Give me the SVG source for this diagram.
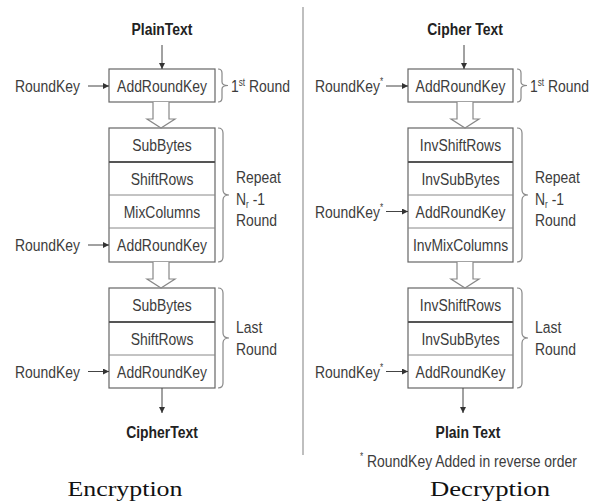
<svg xmlns="http://www.w3.org/2000/svg" width="599" height="502" viewBox="0 0 599 502">
  <defs>
    <marker id="ah" markerUnits="userSpaceOnUse" markerWidth="6" markerHeight="6" refX="6" refY="3" orient="auto">
      <path d="M0,0 L6,3 L0,6 z" fill="#333"/>
    </marker>
    <style>
      /* narrow sans look: Liberation Sans squeezed horizontally via per-text transform */
      .t { font-family: "Liberation Sans", Arial, sans-serif; font-size: 17px; fill: #3c3c3c; }
      .b { font-weight: bold; fill: #222; }
      .c { text-anchor: middle; }
      .sup { font-size: 10px; }
      .box { fill: #fff; stroke: #666; stroke-width: 1.2; }
      .div { stroke: #888; stroke-width: 1; }
      .div2 { stroke: #555; stroke-width: 2.2; }
      .ln { stroke: #444; stroke-width: 1; fill: none; }
      .br { stroke: #888; stroke-width: 1.2; fill: none; }
      .hollow { fill: #fff; stroke: #888; stroke-width: 1.2; }
      .cap { font-family: "Liberation Serif", "Times New Roman", serif; font-size: 22px; fill: #111; text-anchor: middle; }
    </style>
  </defs>

  <rect width="599" height="502" fill="#fff"/>

  <!-- separator between the two halves -->
  <line x1="303" y1="7" x2="303" y2="455" stroke="#aaa" stroke-width="1.5"/>

  <!-- ===== Encryption ===== -->
  <g id="enc-plaintext"><text class="t b c" transform="translate(162 35) scale(.82 1)">PlainText</text></g>

  <g id="enc-first">
    <rect class="box" x="109" y="69" width="106" height="33"/>
    <text class="t c" transform="translate(162 92) scale(.82 1)">AddRoundKey</text>
  </g>
  <g id="enc-key1"><text class="t" transform="translate(15 92) scale(.82 1)">RoundKey</text></g>
  <g id="enc-first-label">
    <path class="br" d="M218,69 Q222,69 222,73 L222,82 Q222,85.5 228,85.5 Q222,85.5 222,89 L222,98 Q222,102 218,102"/>
    <text class="t" transform="translate(231 92) scale(.82 1)">1<tspan class="sup" dy="-6">st</tspan><tspan dy="6"> Round</tspan></text>
  </g>

  <g id="enc-repeat">
    <rect class="box" x="109" y="128" width="106" height="134"/>
    <line class="div2" x1="109" y1="162" x2="215" y2="162"/>
    <line class="div" x1="109" y1="195" x2="215" y2="195"/>
    <line class="div" x1="109" y1="228" x2="215" y2="228"/>
    <text class="t c" transform="translate(162 151) scale(.82 1)">SubBytes</text>
    <text class="t c" transform="translate(162 184.5) scale(.82 1)">ShiftRows</text>
    <text class="t c" transform="translate(162 217.5) scale(.82 1)">MixColumns</text>
    <text class="t c" transform="translate(162 251) scale(.82 1)">AddRoundKey</text>
  </g>
  <g id="enc-key2"><text class="t" transform="translate(15 251) scale(.82 1)">RoundKey</text></g>
  <g id="enc-repeat-label">
    <path class="br" d="M218,128 Q223,128 223,133 L223,190 Q223,195 229,195 Q223,195 223,200 L223,257 Q223,262 218,262"/>
    <text class="t" transform="translate(236 183) scale(.82 1)">Repeat</text>
    <text class="t" transform="translate(236 205) scale(.82 1)">N<tspan class="sup" dy="3">r</tspan><tspan dy="-3"> -1</tspan></text>
    <text class="t" transform="translate(236 226) scale(.82 1)">Round</text>
  </g>

  <g id="enc-last">
    <rect class="box" x="109" y="288" width="106" height="100"/>
    <line class="div2" x1="109" y1="322" x2="215" y2="322"/>
    <line class="div" x1="109" y1="355" x2="215" y2="355"/>
    <text class="t c" transform="translate(162 311) scale(.82 1)">SubBytes</text>
    <text class="t c" transform="translate(162 344.5) scale(.82 1)">ShiftRows</text>
    <text class="t c" transform="translate(162 377.5) scale(.82 1)">AddRoundKey</text>
  </g>
  <g id="enc-key3"><text class="t" transform="translate(15 377.5) scale(.82 1)">RoundKey</text></g>
  <g id="enc-last-label">
    <path class="br" d="M218,288 Q223,288 223,293 L223,333 Q223,338 229,338 Q223,338 223,343 L223,383 Q223,388 218,388"/>
    <text class="t" transform="translate(236 333) scale(.82 1)">Last</text>
    <text class="t" transform="translate(236 355) scale(.82 1)">Round</text>
  </g>

  <g id="enc-ciphertext"><text class="t b c" transform="translate(162 438) scale(.82 1)">CipherText</text></g>
  <g id="enc-caption"><text class="cap" x="125" y="496" textLength="115" lengthAdjust="spacingAndGlyphs">Encryption</text></g>

  <!-- ===== Decryption ===== -->
  <g id="dec-ciphertext"><text class="t b c" transform="translate(465 35) scale(.82 1)">Cipher Text</text></g>

  <g id="dec-first">
    <rect class="box" x="408" y="69" width="105" height="33"/>
    <text class="t c" transform="translate(460.5 92) scale(.82 1)">AddRoundKey</text>
  </g>
  <g id="dec-key1"><text class="t" transform="translate(315 92) scale(.82 1)">RoundKey<tspan class="sup" dy="-7">*</tspan></text></g>
  <g id="dec-first-label">
    <path class="br" d="M517,69 Q521,69 521,73 L521,82 Q521,85.5 527,85.5 Q521,85.5 521,89 L521,98 Q521,102 517,102"/>
    <text class="t" transform="translate(530 92) scale(.82 1)">1<tspan class="sup" dy="-6">st</tspan><tspan dy="6"> Round</tspan></text>
  </g>

  <g id="dec-repeat">
    <rect class="box" x="408" y="128" width="105" height="134"/>
    <line class="div2" x1="408" y1="162" x2="513" y2="162"/>
    <line class="div" x1="408" y1="195" x2="513" y2="195"/>
    <line class="div" x1="408" y1="228" x2="513" y2="228"/>
    <text class="t c" transform="translate(460.5 151) scale(.82 1)">InvShiftRows</text>
    <text class="t c" transform="translate(460.5 184.5) scale(.82 1)">InvSubBytes</text>
    <text class="t c" transform="translate(460.5 217.5) scale(.82 1)">AddRoundKey</text>
    <text class="t c" transform="translate(460.5 251) scale(.82 1)">InvMixColumns</text>
  </g>
  <g id="dec-key2"><text class="t" transform="translate(315 217.5) scale(.82 1)">RoundKey<tspan class="sup" dy="-7">*</tspan></text></g>
  <g id="dec-repeat-label">
    <path class="br" d="M517,128 Q522,128 522,133 L522,190 Q522,195 528,195 Q522,195 522,200 L522,257 Q522,262 517,262"/>
    <text class="t" transform="translate(535 183) scale(.82 1)">Repeat</text>
    <text class="t" transform="translate(535 205) scale(.82 1)">N<tspan class="sup" dy="3">r</tspan><tspan dy="-3"> -1</tspan></text>
    <text class="t" transform="translate(535 226) scale(.82 1)">Round</text>
  </g>

  <g id="dec-last">
    <rect class="box" x="408" y="288" width="105" height="100"/>
    <line class="div2" x1="408" y1="322" x2="513" y2="322"/>
    <line class="div" x1="408" y1="355" x2="513" y2="355"/>
    <text class="t c" transform="translate(460.5 311) scale(.82 1)">InvShiftRows</text>
    <text class="t c" transform="translate(460.5 344.5) scale(.82 1)">InvSubBytes</text>
    <text class="t c" transform="translate(460.5 377.5) scale(.82 1)">AddRoundKey</text>
  </g>
  <g id="dec-key3"><text class="t" transform="translate(315 377.5) scale(.82 1)">RoundKey<tspan class="sup" dy="-7">*</tspan></text></g>
  <g id="dec-last-label">
    <path class="br" d="M517,288 Q522,288 522,293 L522,333 Q522,338 528,338 Q522,338 522,343 L522,383 Q522,388 517,388"/>
    <text class="t" transform="translate(535 333) scale(.82 1)">Last</text>
    <text class="t" transform="translate(535 355) scale(.82 1)">Round</text>
  </g>

  <g id="dec-plaintext"><text class="t b c" transform="translate(468 438) scale(.82 1)">Plain Text</text></g>
  <g id="dec-note"><text class="t" transform="translate(360 467) scale(.82 1)"><tspan class="sup" dy="-7">*</tspan><tspan dy="7"> RoundKey Added in reverse order</tspan></text></g>
  <g id="dec-caption"><text class="cap" x="490" y="496" textLength="120" lengthAdjust="spacingAndGlyphs">Decryption</text></g>

  <!-- ===== connectors ===== -->
  <g id="connectors">
    <!-- encryption -->
    <line class="ln" x1="162" y1="45" x2="162" y2="69" marker-end="url(#ah)"/>
    <line class="ln" x1="88" y1="86" x2="109" y2="86" marker-end="url(#ah)"/>
    <line class="ln" x1="88" y1="245" x2="109" y2="245" marker-end="url(#ah)"/>
    <line class="ln" x1="88" y1="371.5" x2="109" y2="371.5" marker-end="url(#ah)"/>
    <line class="ln" x1="162" y1="388" x2="162" y2="413" marker-end="url(#ah)"/>
    <path class="hollow" d="M153,102 L153,119 L147,119 L161,128 L175,119 L169,119 L169,102"/>
    <path class="hollow" d="M153,262 L153,279 L147,279 L161,288 L175,279 L169,279 L169,262"/>
    <!-- decryption -->
    <line class="ln" x1="464" y1="45" x2="464" y2="69" marker-end="url(#ah)"/>
    <line class="ln" x1="386" y1="86" x2="408" y2="86" marker-end="url(#ah)"/>
    <line class="ln" x1="386" y1="211.5" x2="408" y2="211.5" marker-end="url(#ah)"/>
    <line class="ln" x1="386" y1="371.5" x2="408" y2="371.5" marker-end="url(#ah)"/>
    <line class="ln" x1="463" y1="388" x2="463" y2="413" marker-end="url(#ah)"/>
    <path class="hollow" d="M457,102 L457,119 L451,119 L465,128 L479,119 L473,119 L473,102"/>
    <path class="hollow" d="M457,262 L457,279 L451,279 L465,288 L479,279 L473,279 L473,262"/>
  </g>
</svg>
